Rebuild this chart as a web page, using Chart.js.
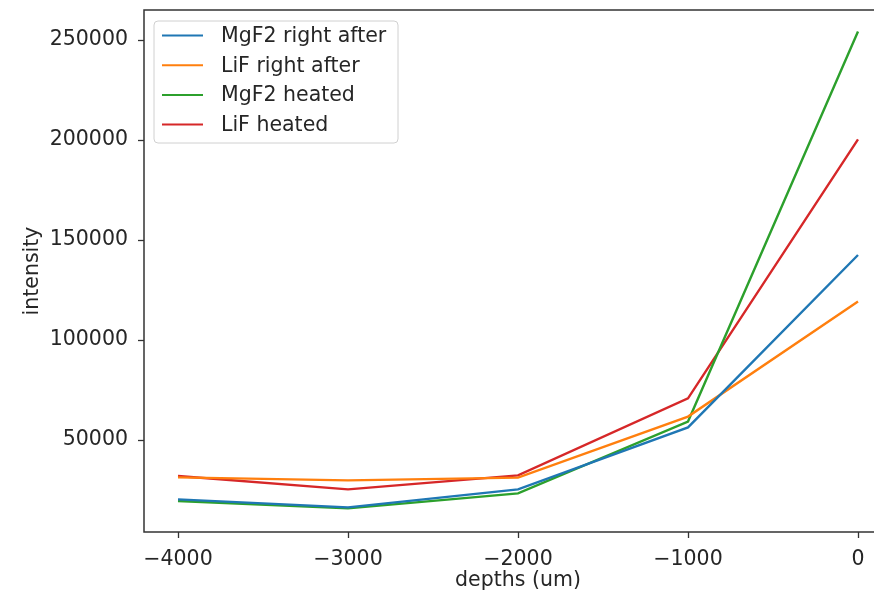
<!DOCTYPE html>
<html>
<head>
<meta charset="utf-8">
<script src="https://cdn.jsdelivr.net/npm/chart.js@4.4.0/dist/chart.umd.min.js"></script>
<style>
  html, body { margin: 0; padding: 0; background: #fff; overflow: hidden; }
  #wrap { position: relative; width: 874px; height: 593px; overflow: hidden; }
  canvas { display: block; }
</style>
</head>
<body>
<div id="wrap"><canvas id="myChart" width="900" height="593"></canvas></div>
<script>
const depths = [-4000, -3000, -2000, -1000, 0];
const mgf2After = [20300, 16300, 25300, 56300, 142500];
const lifAfter = [31300, 29800, 31200, 61700, 119200];
const mgf2Heated = [19500, 15800, 23300, 59200, 254200];
const lifHeated = [32000, 25300, 32300, 70800, 200300];
const seriesNames = ['MgF2 right after', 'LiF right after', 'MgF2 heated', 'LiF heated'];
const colors = ['#1f77b4', '#ff7f0e', '#2ca02c', '#d62728'];
const xTicks = [-4000, -3000, -2000, -1000, 0];
const yTicks = [50000, 100000, 150000, 200000, 250000];

const FONT = 'DejaVu Sans';
const FSIZE = 20.5;
const txt = '#262626';
const fmt = v => v < 0 ? '\u2212' + Math.abs(v) : String(v);

const toPts = arr => arr.map((v, i) => ({x: depths[i], y: v}));
const allSeries = [mgf2After, lifAfter, mgf2Heated, lifHeated];

// spines gauche/haut/bas (la droite sort de l'image) + légende façon matplotlib
const frame = {
  id: 'frame',
  afterDatasetsDraw(chart) {
    const {ctx, chartArea: a} = chart;
    ctx.save();
    ctx.strokeStyle = '#333';
    ctx.lineWidth = 1.5;
    ctx.beginPath();
    ctx.moveTo(a.right, a.top);
    ctx.lineTo(a.left, a.top);
    ctx.lineTo(a.left, a.bottom);
    ctx.lineTo(a.right, a.bottom);
    ctx.stroke();

    // légende
    let x0 = 154, y0 = 21, w = 244, h = 122;
    ctx.fillStyle = 'rgba(255,255,255,0.8)';
    ctx.strokeStyle = '#d0d0d0';
    ctx.lineWidth = 1;
    ctx.beginPath();
    ctx.roundRect(x0, y0, w, h, 4);
    ctx.fill();
    ctx.stroke();
    ctx.font = FSIZE + 'px ' + FONT;
    ctx.textBaseline = 'middle';
    chart.data.datasets.forEach((ds, i) => {
      let y = 35.5 + i * 29.7;
      ctx.strokeStyle = ds.borderColor;
      ctx.lineWidth = 2;
      ctx.beginPath();
      ctx.moveTo(162, y);
      ctx.lineTo(203, y);
      ctx.stroke();
      ctx.fillStyle = txt;
      ctx.fillText(ds.label, 221, y + 1);
    });
    ctx.restore();
  }
};

let ctx = document.getElementById('myChart').getContext('2d');
new Chart(ctx, {
  type: 'line',
  data: {
    datasets: allSeries.map((s, i) => ({
      label: seriesNames[i],
      data: toPts(s),
      borderColor: colors[i],
      backgroundColor: colors[i],
      borderWidth: 2.4,
      pointRadius: 0,
      tension: 0,
      fill: false
    }))
  },
  options: {
    responsive: false,
    animation: false,
    layout: { padding: { top: 10, right: 8, left: 20, bottom: 0 } },
    plugins: { legend: { display: false }, tooltip: { enabled: false } },
    scales: {
      x: {
        type: 'linear',
        min: -4200,
        max: 200,
        afterBuildTicks: sc => { sc.ticks = xTicks.map(v => ({value: v})); },
        afterFit: sc => { sc.height = 61; sc.paddingLeft = 0; sc.paddingRight = 0; },
        grid: { display: true, drawOnChartArea: false, drawTicks: true, tickLength: 6, tickWidth: 1.3, color: '#333' },
        border: { display: false },
        ticks: { color: txt, font: { family: FONT, size: FSIZE }, padding: 9, maxRotation: 0, callback: v => fmt(v) },
        title: { display: true, text: 'depths (um)', color: txt, font: { family: FONT, size: FSIZE }, padding: { top: 0, bottom: 0 } }
      },
      y: {
        type: 'linear',
        min: 4000,
        max: 265000,
        afterBuildTicks: sc => { sc.ticks = yTicks.map(v => ({value: v})); },
        afterFit: sc => { sc.width = 124; sc.paddingTop = 0; sc.paddingBottom = 0; },
        grid: { display: true, drawOnChartArea: false, drawTicks: true, tickLength: 6, tickWidth: 1.3, color: '#333' },
        border: { display: false },
        ticks: { color: txt, font: { family: FONT, size: FSIZE }, padding: 10, callback: v => fmt(v) },
        title: { display: true, text: 'intensity', color: txt, font: { family: FONT, size: FSIZE }, padding: { top: 0, bottom: 0 } }
      }
    }
  },
  plugins: [frame]
});
</script>
</body>
</html>
